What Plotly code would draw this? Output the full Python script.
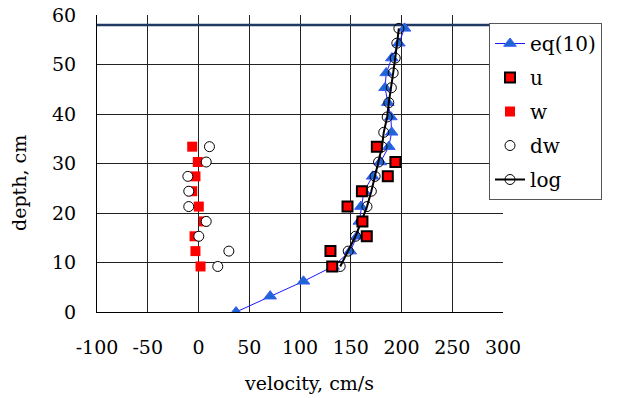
import plotly.graph_objects as go

# ---- data ----
depth_eq = [0, 3.2, 6.2, 9.2, 12.3, 15.3, 18.3, 21.3, 24.4, 27.4, 30.3, 33.4,
            36.3, 39.4, 42.3, 45.3, 48.3, 51.3, 54.3, 57.3]
vel_eq = [37, 70.6, 103.4, 132.5, 149.5, 156.3, 158.5, 160, 163, 171.6, 179.2,
          187.5, 190.3, 189.5, 186.5, 183.8, 185, 190.5, 197.4, 203]

depth_meas = [9.2, 12.3, 15.3, 18.3, 21.3, 24.4, 27.4, 30.3, 33.4]
vel_u = [131.7, 130, 165.8, 161.5, 146.8, 161, 186.5, 194, 175.7]
vel_w = [2, -3, -3.9, 5.2, 0.3, -6.2, -3, -0.7, -6.2]
vel_dw = [19, 29.9, 0.3, 7.6, -9.6, -9.6, -10.5, 7.6, 10.8]

depth_log = [9.2, 12.3, 15.3, 18.3, 21.3, 24.4, 27.4, 30.3, 33.4, 36.3, 39.4,
             42.3, 45.3, 48.3, 51.3, 54.3, 57.3]
vel_log = [139.6, 147.5, 154.7, 160.5, 166, 170.3, 174, 177.4, 180.8, 182.5,
           185.9, 187.5, 190, 191.8, 193.8, 195.4, 197.4]

surface_depth = 58
x_range = [-100, 300]
y_range = [0, 60]
x_ticks = [-100, -50, 0, 50, 100, 150, 200, 250, 300]
x_ticklabels = ["-100", "-50", "0", "50", "100", "150", "200", "250", "300"]
y_ticks = [0, 10, 20, 30, 40, 50, 60]

FONT = "DejaVu Serif"

fig = go.Figure()

fig.add_trace(go.Scatter(
    x=x_range, y=[surface_depth, surface_depth], mode="lines",
    line=dict(color="#1f3864", width=2.5), showlegend=False, hoverinfo="skip"))

fig.add_trace(go.Scatter(
    x=vel_eq, y=depth_eq, mode="lines+markers", name="eq(10)", legendrank=1,
    legendgroup="g1",
    line=dict(color="#1a1aff", width=1),
    marker=dict(symbol="triangle-up", size=11, color="#1e66d0",
                line=dict(color="#3a5cff", width=1))))

fig.add_trace(go.Scatter(
    x=vel_log, y=depth_log, mode="lines+markers", name="log", legendrank=5,
    legendgroup="g5",
    line=dict(color="black", width=2),
    marker=dict(symbol="circle", size=10, color="rgba(255,255,255,0)",
                line=dict(color="black", width=1))))

fig.add_trace(go.Scatter(
    x=vel_u, y=depth_meas, mode="markers", name="u", legendrank=2,
    legendgroup="g2",
    marker=dict(symbol="square", size=10, color="#ff0000",
                line=dict(color="black", width=2))))

fig.add_trace(go.Scatter(
    x=vel_w, y=depth_meas, mode="markers", name="w", legendrank=3,
    legendgroup="g3",
    marker=dict(symbol="square", size=10, color="#ff0000",
                line=dict(color="#ff0000", width=0))))

fig.add_trace(go.Scatter(
    x=vel_dw, y=depth_meas, mode="markers", name="dw", legendrank=4,
    legendgroup="g4",
    marker=dict(symbol="circle", size=10, color="white",
                line=dict(color="black", width=1))))

axis_common = dict(
    showgrid=True, gridcolor="#222222", gridwidth=1,
    showline=True, linecolor="black", linewidth=1,
    zeroline=False, ticks="", automargin=False,
    tickfont=dict(family=FONT, size=19, color="black"),
)

fig.update_xaxes(range=x_range, tickvals=x_ticks, ticktext=x_ticklabels,
                 ticklabelstandoff=18, **axis_common)
fig.update_yaxes(range=y_range, tickvals=y_ticks, ticklabelstandoff=16,
                 **axis_common)

fig.add_annotation(text="velocity, cm/s", xref="paper", yref="paper",
                   x=(309 - 97) / 406, y=-(383 - 312) / 297, showarrow=False,
                   xanchor="center", yanchor="middle",
                   font=dict(family=FONT, size=19, color="black"))
fig.add_annotation(text="depth, cm", xref="paper", yref="paper",
                   x=-(97 - 19) / 406, y=(312 - 183) / 297, showarrow=False,
                   textangle=-90, xanchor="center", yanchor="middle",
                   font=dict(family=FONT, size=19, color="black"))

fig.update_layout(
    width=623, height=398,
    margin=dict(l=97, r=120, t=15, b=86, autoexpand=False),
    paper_bgcolor="white", plot_bgcolor="white",
    legend=dict(x=(489 - 97) / 406, y=(312 - 23) / 297, xanchor="left",
                yanchor="top", bgcolor="white", bordercolor="#555555",
                borderwidth=1, font=dict(family=FONT, size=20, color="black"),
                itemwidth=30, tracegroupgap=5),
    showlegend=True,
)

fig.write_html("out.html")
